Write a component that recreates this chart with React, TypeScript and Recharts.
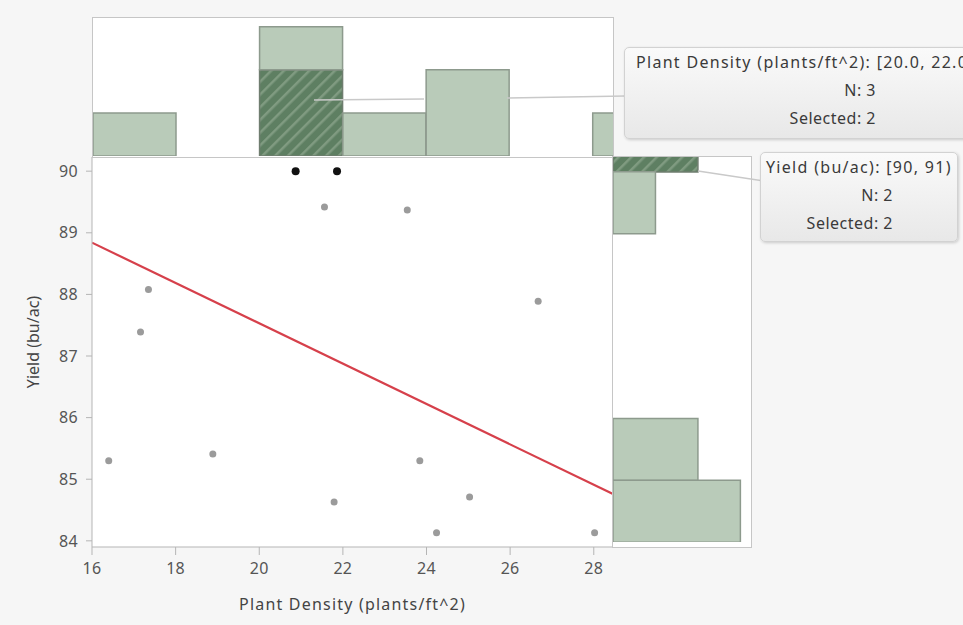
import React from "react";
import { Bar, BarChart, CartesianGrid, ComposedChart, Line, Scatter, XAxis, YAxis } from "recharts";

// raw points
const density = [16.4, 17.16, 17.35, 18.89, 21.56, 21.79, 23.54, 23.84, 24.24, 25.03, 26.67, 28.02];
const yieldVals = [85.3, 87.39, 88.08, 85.41, 89.42, 84.63, 89.37, 85.3, 84.13, 84.71, 87.89, 84.13];
const selDensity = [20.87, 21.86];
const selYield = [90.0, 90.0];

// fitted line end points
const fitX = [16, 28.46];
const fitY = [88.84, 84.76];

// marginal histograms
const densityBins = ["16-18", "18-20", "20-22", "22-24", "24-26", "26-28", "28-30"];
const densityCount = [1, 0, 3, 1, 2, 0, 1];
const densitySelected = [0, 0, 2, 0, 0, 0, 0];

const yieldBins = ["90-91", "89-90", "88-89", "87-88", "86-87", "85-86", "84-85"];
const yieldCount = [2, 1, 0, 0, 0, 2, 3];
const yieldSelected = [2, 0, 0, 0, 0, 0, 0];

const xTicks = [16, 18, 20, 22, 24, 26, 28];
const yTicks = [84, 85, 86, 87, 88, 89, 90];

const FONT = "'Noto Sans', 'Open Sans', sans-serif";
const SAGE = "#b9cbb9";
const EDGE = "#8d9a8d";
const FRAME = "#c6c6c6";

const points = density.map((x, i) => ({ x, y: yieldVals[i] }));
const selPoints = selDensity.map((x, i) => ({ x, y: selYield[i] }));
const fit = fitX.map((x, i) => ({ x, y: fitY[i] }));

const topData = densityBins.map((bin, i) => ({
  bin,
  sel: densitySelected[i],
  rest: densityCount[i] - densitySelected[i],
}));
const rightData = yieldBins.map((bin, i) => ({
  bin,
  sel: yieldSelected[i],
  rest: yieldCount[i] - yieldSelected[i],
}));

const tick = { fontSize: 16, fill: "#555", fontFamily: FONT, letterSpacing: 0.3 };

function HoverBox({ left, top, width, height, title, rows, rowsWidth, padLeft }: {
  left: number; top: number; width: number; height: number; title: string; rows: string[]; rowsWidth: number; padLeft: number;
}) {
  return (
    <div
      style={{
        position: "absolute",
        left,
        top,
        width,
        height,
        boxSizing: "border-box",
        border: "1px solid #d2d2d2",
        borderRadius: 5,
        background: "linear-gradient(#fafafa, #e8e8e8)",
        boxShadow: "1px 1px 3px rgba(0,0,0,0.18)",
        fontFamily: FONT,
        fontSize: 16,
        color: "#3a3a3a",
        lineHeight: "28px",
        paddingLeft: padLeft,
        whiteSpace: "nowrap",
      }}
    >
      <div style={{ letterSpacing: 1.3 }}>{title}</div>
      {rows.map((r) => (
        <div key={r} style={{ width: rowsWidth, textAlign: "right", letterSpacing: 0.5 }}>{r}</div>
      ))}
    </div>
  );
}

function YTitle({ viewBox }: any) {
  const cx = 33;
  const cy = viewBox.y + viewBox.height / 2 - 10;
  return (
    <text x={cx} y={cy} transform={`rotate(-90 ${cx} ${cy})`} textAnchor="middle" dominantBaseline="central" fontSize={16} fill="#444" fontFamily={FONT}>
      Yield (bu/ac)
    </text>
  );
}

export default function App() {
  return (
    <div style={{ position: "absolute", left: 0, top: 0, width: 963, height: 625, overflow: "hidden", background: "#f6f6f6" }}>
      <svg width={0} height={0} style={{ position: "absolute" }}>
        <defs>
          <pattern id="hatch" width={9} height={9} patternUnits="userSpaceOnUse" patternTransform="rotate(45)">
            <rect width={9} height={9} fill="#5e7f62" />
            <rect width={2.5} height={9} fill="#809b81" />
          </pattern>
        </defs>
      </svg>

      {/* main scatter */}
      <div style={{ position: "absolute", left: 0, top: 0 }}>
        <ComposedChart width={613} height={625} margin={{ top: 157, right: 0, bottom: 0, left: 0 }}>
          <CartesianGrid horizontal={false} vertical={false} fill="#fff" />
          <XAxis
            dataKey="x"
            type="number"
            domain={[16, 28.46]}
            ticks={xTicks}
            allowDataOverflow
            height={78}
            stroke="#b5b5b5"
            tickSize={8}
            tickMargin={8}
            tick={tick}
            label={{ value: "Plant Density (plants/ft^2)", position: "insideBottom", offset: 15, style: { fontSize: 16, fill: "#444", fontFamily: FONT, letterSpacing: 1.2 } }}
          />
          <YAxis
            dataKey="y"
            type="number"
            domain={[83.9, 90.23]}
            ticks={yTicks}
            allowDataOverflow
            width={92}
            stroke="#b5b5b5"
            tickSize={6}
            tickMargin={8}
            tick={tick}
            label={<YTitle />}
          />
          <Line data={fit} dataKey="y" type="linear" stroke="#d6404b" strokeWidth={2.2} dot={false} isAnimationActive={false} />
          <Scatter data={points} isAnimationActive={false} shape={(p: any) => <circle cx={p.cx} cy={p.cy} r={3.5} fill="#9b9b9b" />} />
          <Scatter data={selPoints} isAnimationActive={false} shape={(p: any) => <circle cx={p.cx} cy={p.cy} r={4} fill="#111" />} />
        </ComposedChart>
      </div>

      {/* top histogram */}
      <div
        style={{
          position: "absolute",
          left: 92,
          top: 17,
          width: 522,
          height: 141,
          boxSizing: "border-box",
          border: `1px solid ${FRAME}`,
          background: "#fff",
          overflow: "hidden",
        }}
      >
        <div style={{ position: "absolute", left: 0, top: 0 }}>
          <BarChart width={583} height={138} data={topData} margin={{ top: 0, right: 0, bottom: 0, left: 0 }} barCategoryGap={0}>
            <XAxis dataKey="bin" hide />
            <YAxis type="number" domain={[0, 3.2]} hide />
            <Bar dataKey="sel" stackId="h" fill="url(#hatch)" stroke="#6f7d6f" strokeWidth={1.5} isAnimationActive={false} />
            <Bar dataKey="rest" stackId="h" fill={SAGE} stroke={EDGE} strokeWidth={1.5} isAnimationActive={false} />
          </BarChart>
        </div>
      </div>

      {/* right histogram */}
      <div
        style={{
          position: "absolute",
          left: 612,
          top: 156,
          width: 140,
          height: 392,
          boxSizing: "border-box",
          border: `1px solid ${FRAME}`,
          background: "#fff",
          overflow: "hidden",
        }}
      >
        <div style={{ position: "absolute", left: 0, top: -47 }}>
          <BarChart layout="vertical" width={138} height={432} data={rightData} margin={{ top: 0, right: 0, bottom: 0, left: 0 }} barCategoryGap={0}>
            <XAxis type="number" domain={[0, 3.25]} hide />
            <YAxis type="category" dataKey="bin" hide />
            <Bar dataKey="sel" stackId="v" fill="url(#hatch)" stroke="#6f7d6f" strokeWidth={1.5} isAnimationActive={false} />
            <Bar dataKey="rest" stackId="v" fill={SAGE} stroke={EDGE} strokeWidth={1.5} isAnimationActive={false} />
          </BarChart>
        </div>
      </div>

      {/* hover label leaders */}
      <svg width={963} height={625} style={{ position: "absolute", left: 0, top: 0, pointerEvents: "none" }}>
        <line x1={314} y1={100} x2={424} y2={99} stroke="#c9c9c9" strokeWidth={1.5} />
        <line x1={507} y1={98} x2={626} y2={96} stroke="#c9c9c9" strokeWidth={1.5} />
        <line x1={698} y1={171} x2={764} y2={181} stroke="#c9c9c9" strokeWidth={1.5} />
      </svg>

      <HoverBox
        left={624}
        top={47}
        width={400}
        height={92}
        title="Plant Density (plants/ft^2): [20.0, 22.0)"
        rows={["N: 3", "Selected: 2"]}
        rowsWidth={240}
        padLeft={11}
      />
      <HoverBox
        left={760}
        top={152}
        width={198}
        height={90}
        title="Yield (bu/ac): [90, 91)"
        rows={["N: 2", "Selected: 2"]}
        rowsWidth={127}
        padLeft={5}
      />
    </div>
  );
}
